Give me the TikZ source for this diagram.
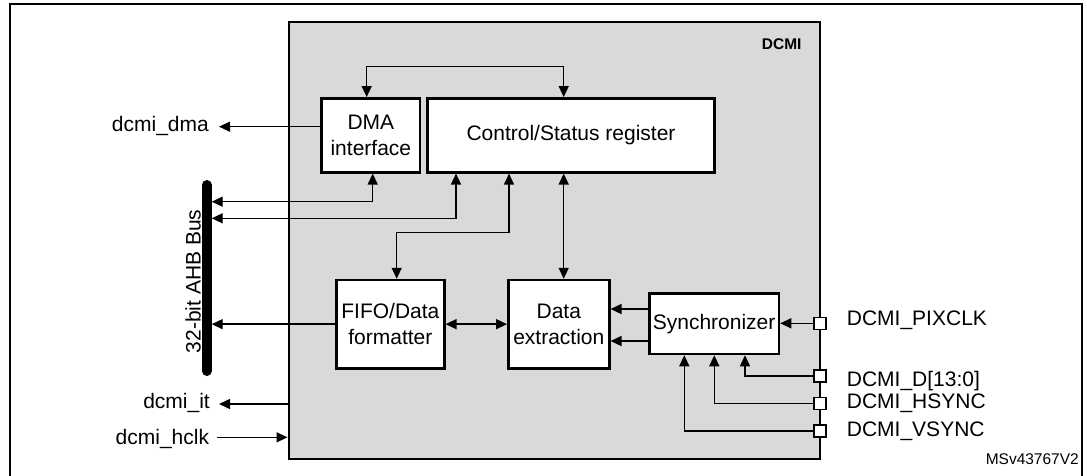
\documentclass[tikz,border=0pt]{standalone}
\usepackage{fontspec}
\setmainfont{Liberation Sans}
\usetikzlibrary{arrows.meta,calc}
\definecolor{dgray}{HTML}{D9D9D9}
\begin{document}
\begin{tikzpicture}[x=1pt,y=-1pt,
  every node/.style={font=\fontsize{21}{25.5}\selectfont},
  blk/.style={draw, line width=2.5pt, fill=white, align=center, inner sep=0pt},
  con/.style={line width=1.4pt, >={Triangle[length=11pt,width=10pt]}},
  pinsq/.style={draw, line width=1.4pt, fill=white, minimum size=12pt, inner sep=0pt},
  lbl/.style={inner sep=0pt}]
\useasboundingbox (0,0) rectangle (1087,475);
\draw[line width=2pt] (10,476) -- (10,4) -- (1082,4) -- (1082,476);
\node[draw, line width=2pt, fill=dgray, minimum width=531.5pt, minimum height=437.6pt, inner sep=0pt] (dcmi) at (554.25,240.5) {};
\node[lbl, anchor=base east, font=\fontsize{15.5}{18}\selectfont\bfseries] (dcmilbl) at (801.7,49) {DCMI};

% blocks
\node[blk, minimum width=98.3pt, minimum height=74pt] (dma) at (370.85,135.3) {DMA\\interface};
\node[blk, minimum width=286.6pt, minimum height=74pt] (csr) at (571,135.3) {Control/Status register};
\node[blk, minimum width=107.8pt, minimum height=88.3pt] (fifo) at (390.4,324.15) {FIFO/Data\\formatter};
\node[blk, minimum width=101pt, minimum height=88.3pt] (dext) at (558.8,324.15) {Data\\extraction};
\node[blk, minimum width=129.7pt, minimum height=60.7pt] (sync) at (714.15,323.65) {Synchronizer};

% bus
\coordinate (busT) at (206.7,185);
\coordinate (busB) at (206.7,371);
\draw[line width=10pt, line cap=round] (busT) -- (busB);
\node[lbl, rotate=90, anchor=base] (buslbl) at (200.5,281.5) {32-bit AHB Bus};

% helper coordinates
\coordinate (busR) at (211.7,0);
\coordinate (yT) at (0,66.7);
\coordinate (yA) at (0,201.7);
\coordinate (yB) at (0,218.3);
\coordinate (yC) at (0,232.7);
\coordinate (yD) at (0,126.7);
\coordinate (yS1) at (0,309);
\coordinate (yS2) at (0,341);
\coordinate (yIt) at (0,404);
\coordinate (yHc) at (0,437.3);
\coordinate (xa) at (366.7,0);
\coordinate (xb) at (563.7,0);
\coordinate (xc) at (372.7,0);
\coordinate (xd) at (456,0);
\coordinate (xe) at (509,0);
\coordinate (xf) at (396.7,0);
\coordinate (xg) at (745,0);
\coordinate (xh) at (714.3,0);
\coordinate (xi) at (684.3,0);
\coordinate (tout) at (219,0);
\coordinate (thclk) at (216.7,0);

% connectors
\draw[con,<->] (xa |- dma.north) -- (xa |- yT) -- (xb |- yT) -- (xb |- csr.north);
\draw[con,<->] (xc |- dma.south) -- (xc |- yA) -- (busR |- yA);
\draw[con,<->] (xd |- csr.south) -- (xd |- yB) -- (busR |- yB);
\draw[con,<->] (xe |- csr.south) -- (xe |- yC) -- (xf |- yC) -- (xf |- fifo.north);
\draw[con,<->] (xb |- csr.south) -- (xb |- dext.north);
\draw[con,->] (fifo.west) -- (busR |- fifo.west);
\draw[con,<->] (fifo.east) -- (dext.west);
\draw[con,->] (sync.west |- yS1) -- (dext.east |- yS1);
\draw[con,->] (sync.west |- yS2) -- (dext.east |- yS2);
\draw[con,->] (dma.west |- yD) -- (tout |- yD);
\draw[con,->] (dcmi.west |- yIt) -- (tout |- yIt);
\draw[con,->] (thclk |- yHc) -- (dcmi.west |- yHc);

% pins
\node[pinsq] (ppix) at (820,323.3) {};
\node[pinsq] (pd) at (820,376) {};
\node[pinsq] (phs) at (820,403.3) {};
\node[pinsq] (pvs) at (820,431) {};
\draw[con,->] (ppix.west) -- (sync.east |- ppix.west);
\draw[con,->] (pd.west) -- (xg |- pd.west) -- (xg |- sync.south);
\draw[con,->] (phs.west) -- (xh |- phs.west) -- (xh |- sync.south);
\draw[con,->] (pvs.west) -- (xi |- pvs.west) -- (xi |- sync.south);

% labels
\node[lbl, anchor=base west] (lpix) at (846.7,325) {DCMI\_PIXCLK};
\node[lbl, anchor=base west] (ld) at (846.7,386) {DCMI\_D[13:0]};
\node[lbl, anchor=base west] (lhs) at (846.7,408.3) {DCMI\_HSYNC};
\node[lbl, anchor=base west] (lvs) at (846.7,436.7) {DCMI\_VSYNC};
\node[lbl, anchor=base east] (ldma) at (209,131) {dcmi\_dma};
\node[lbl, anchor=base east] (lit) at (210,408.3) {dcmi\_it};
\node[lbl, anchor=base east] (lhclk) at (209.3,444) {dcmi\_hclk};
\node[lbl, anchor=base east, font=\fontsize{15.5}{18}\selectfont] (ver) at (1079,464) {MSv43767V2};
\end{tikzpicture}
\end{document}
